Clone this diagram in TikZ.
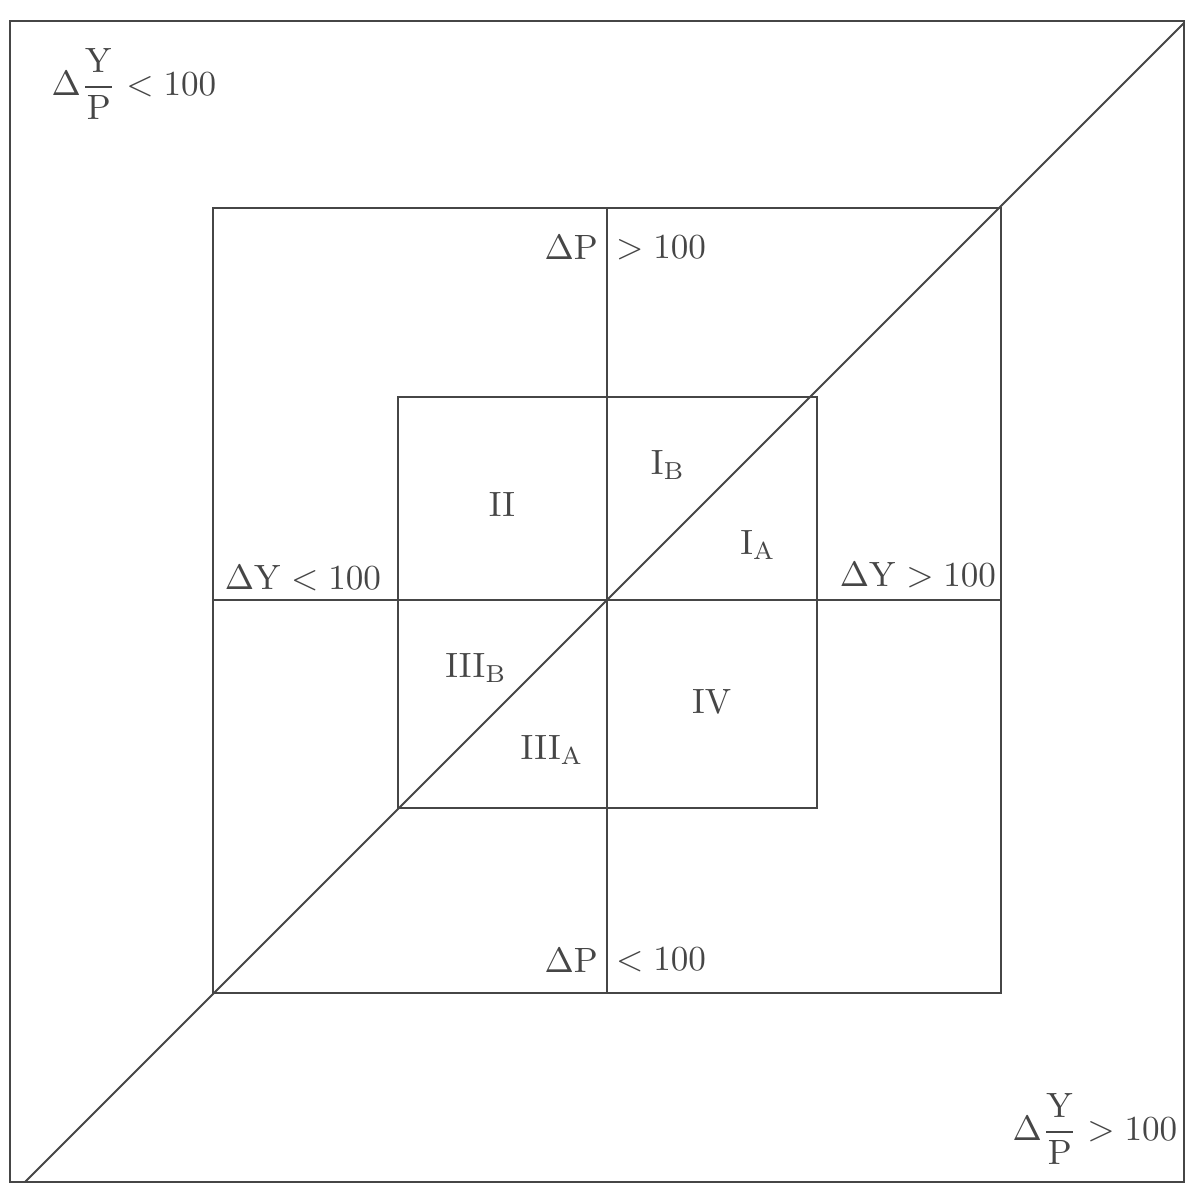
\documentclass[tikz,border=0pt]{standalone}
\usepackage{amsmath}
\usetikzlibrary{positioning}
\definecolor{ink}{RGB}{70,70,70}
\tikzset{
  frame/.style={ink,line width=0.6pt},
  lbl/.style={text=ink,inner sep=1pt}
}

\begin{document}
\begin{tikzpicture}
    \useasboundingbox (0,0) rectangle (11.86,11.87);
    % corners of the three boxes and the centre
    \coordinate (O) at (6.07,5.87);
    \coordinate (oSW) at (0.10,0.05);
    \coordinate (oNE) at (11.84,11.66);
    \coordinate (mSW) at (2.13,1.94);
    \coordinate (mNE) at (10.01,9.79);
    \coordinate (iSW) at (3.98,3.79);
    \coordinate (iNE) at (8.17,7.90);
    \coordinate (dA) at (0.25,0.05);
    \coordinate (dB) at (11.84,11.64);
    \draw[frame] (oSW) rectangle (oNE);
    \draw[frame] (mSW) rectangle (mNE);
    \draw[frame] (iSW) rectangle (iNE);
    \draw[frame] (mSW |- O) -- (mNE |- O);
    \draw[frame] (mSW -| O) -- (mNE -| O);
    \draw[frame] (dA) -- (dB);
    % axis labels
    \node[lbl] (rYPlo) at (1.34,11.03) {$\Delta\dfrac{\mathrm{Y}}{\mathrm{P}} < 100$};
    \node[lbl] (rYPhi) at (10.95,0.58) {$\Delta\dfrac{\mathrm{Y}}{\mathrm{P}} > 100$};
    \node[lbl] (dYlo) at (3.03,6.09) {$\Delta\mathrm{Y} < 100$};
    \node[lbl] (dYhi) at (9.18,6.12) {$\Delta\mathrm{Y} > 100$};
    \node[lbl,anchor=east] (dPhiL) at (6.02,9.39) {$\Delta\mathrm{P}$};
    \node[lbl,anchor=west] (dPhiR) at (6.12,9.39) {$>100$};
    \node[lbl,anchor=east] (dPloL) at (6.02,2.27) {$\Delta\mathrm{P}$};
    \node[lbl,anchor=west] (dPloR) at (6.12,2.27) {$<100$};
    % regions
    \foreach \n/\x/\y/\lab in {
      rII/5.02/6.82/II,
      rIB/6.68/7.22/I_B,
      rIA/7.58/6.42/I_A,
      rIIIB/4.76/5.19/III_B,
      rIIIA/5.52/4.37/III_A,
      rIV/7.12/4.85/IV}
    {
      \node[lbl] (\n) at (\x,\y) {$\mathrm{\lab}$};
    }
\end{tikzpicture}
\end{document}
